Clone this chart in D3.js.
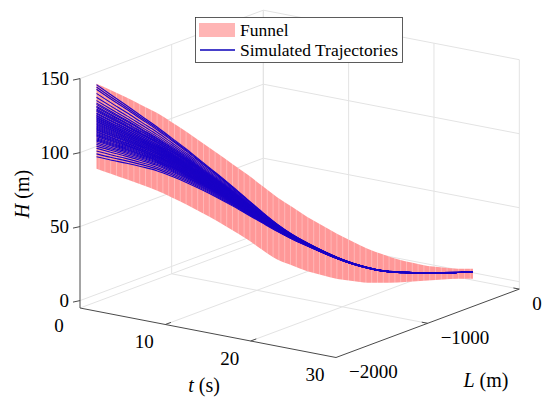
<!DOCTYPE html>
<html>
<head>
<meta charset="utf-8">
<script src="https://cdnjs.cloudflare.com/ajax/libs/d3/7.8.5/d3.min.js"></script>
<style>
body { margin: 0; background: #fff; }
</style>
</head>
<body>
<svg id="chart" width="550" height="407"></svg>
<script>
// sample times (s), ground distance (m) and heights (m)
var times = [0, 1, 2, 3, 4, 5, 6, 7, 8, 9, 10, 11, 12, 13, 14, 15, 16, 17, 18, 19, 20, 21, 22, 23, 24, 25];
var groundL = [-1820, -1749, -1678, -1606, -1535, -1464, -1393, -1322, -1250, -1179, -1108, -1037, -966,
    -894, -823, -752, -681, -610, -538, -467, -396, -325, -254, -182, -111, -40];
var nominalH = [114.0, 109.1, 104.4, 99.4, 94.3, 88.3, 82.0, 75.2, 68.2, 60.9, 53.3, 45.7, 38.4,
    31.8, 26.2, 20.9, 16.0, 11.8, 8.4, 5.8, 4.4, 3.6, 3.0, 2.5, 2.1, 2.1];
var funnelUpper = [142.4, 137.3, 132.0, 126.3, 120.6, 113.7, 106.6, 99.0, 91.3, 83.6, 75.9, 67.6, 59.3,
    52.1, 44.9, 38.6, 32.4, 26.8, 21.4, 17.1, 13.1, 10.2, 7.5, 6.0, 4.7, 4.1];
var funnelLower = [85.0, 80.9, 76.7, 72.5, 68.1, 62.9, 57.5, 51.5, 45.4, 38.8, 32.0, 24.4, 17.2,
    12.6, 8.2, 5.0, 1.9, 0.1, -1.6, -2.1, -2.5, -2.4, -2.2, -2.1, -2.1, -2.6];
// fraction of the initial height error still left at each sample
var convergence = [1, 0.9, 0.8, 0.7, 0.61, 0.53, 0.46, 0.39, 0.33, 0.27, 0.21, 0.15, 0.1,
    0.065, 0.042, 0.028, 0.019, 0.013, 0.01, 0.008, 0.006, 0.005, 0.004, 0.003, 0.002, 0.002];
// initial height error of each simulated trajectory (m)
var startOffsets = [27.7, 26.1, 24.6, 21.8, 19.2, 17.0, 15.3, 14.4, 13.1, 12.4, 11.2, 10.5, 9.8, 8.6,
    8.1, 7.0, 6.6, 5.7, 5.2, 4.4, 3.9, 3.1, 2.6, 1.8, 1.2, 0.5, -0.3, -0.9, -1.6, -2.3, -2.9, -3.8,
    -4.4, -5.1, -5.9, -6.4, -7.2, -8.1, -8.9, -9.6, -10.4, -11.5, -12.6, -13.8, -15.2, -17.1, -19.0, -21.0];

var tTicks = [0, 10, 20, 30];
var lTicks = [-2000, -1000, 0];
var hTicks = [0, 50, 100, 150];

var serif = "'Liberation Serif', 'Times New Roman', 'DejaVu Serif', serif";
var svg = d3.select("#chart").attr("font-family", serif);

var tScale = d3.scaleLinear().domain([0, 30]).range([0, 1]);
var lScale = d3.scaleLinear().domain([-2000, 0]).range([0, 1]);
var hScale = d3.scaleLinear().domain([-5, 150]).range([0, 1]);

// screen vectors of the box edges
var org = [80, 308], vT = [256, 49.5], vL = [183.3, -68.4], vH = [0, -229.4];

function proj(t, l, h) {
    var a = tScale(t), b = lScale(l), c = hScale(h);
    return [org[0] + a * vT[0] + b * vL[0] + c * vH[0],
            org[1] + a * vT[1] + b * vL[1] + c * vH[1]];
}

function seg(g, p, q, col, w) {
    g.append("line").attr("x1", p[0]).attr("y1", p[1]).attr("x2", q[0]).attr("y2", q[1])
        .attr("stroke", col).attr("stroke-width", w);
}

function label(x, y, size, anchor, s) {
    return svg.append("text").attr("x", x).attr("y", y).attr("font-family", serif)
        .attr("font-size", size).attr("text-anchor", anchor).attr("fill", "#000").text(s);
}

var grid = svg.append("g");
var gc = "#e3e3e3";
var hLo = hScale.domain()[0], hHi = hScale.domain()[1];

// back left wall (t = 0)
lTicks.forEach(function(l) { if (l != -2000) seg(grid, proj(0, l, hLo), proj(0, l, hHi), gc, 1) });
hTicks.forEach(function(h) { seg(grid, proj(0, -2000, h), proj(0, 0, h), gc, 1) });
// back right wall (L = 0)
tTicks.forEach(function(t) { seg(grid, proj(t, 0, hLo), proj(t, 0, hHi), gc, 1) });
hTicks.forEach(function(h) { seg(grid, proj(0, 0, h), proj(30, 0, h), gc, 1) });
// floor
tTicks.forEach(function(t) { if (t != 30) seg(grid, proj(t, -2000, hLo), proj(t, 0, hLo), gc, 1) });
lTicks.forEach(function(l) { if (l != -2000) seg(grid, proj(0, l, hLo), proj(30, l, hLo), gc, 1) });

// axes
var ax = svg.append("g");
var ac = "#4a4a4a";
seg(ax, proj(0, -2000, hLo), proj(0, -2000, hHi), ac, 1);
seg(ax, proj(0, -2000, hLo), proj(30, -2000, hLo), ac, 1);
seg(ax, proj(30, -2000, hLo), proj(30, 0, hLo), ac, 1);

var lenL = Math.hypot(vL[0], vL[1]), lenT = Math.hypot(vT[0], vT[1]);

hTicks.forEach(function(h) {
    var p = proj(0, -2000, h);
    seg(ax, p, [p[0] - 7, p[1] + 1.5], ac, 1);
    label(p[0] - 11, p[1] + 6.5, 19, "end", h);
});
tTicks.forEach(function(t) {
    var p = proj(t, -2000, hLo);
    if (t != 0 && t != 30) seg(ax, p, [p[0] + 6 * vL[0] / lenL, p[1] + 6 * vL[1] / lenL], ac, 1);
    label(p[0] - 21, p[1] + 23.5, 19, "middle", t);
});
lTicks.forEach(function(l) {
    var p = proj(30, l, hLo);
    if (l != -2000) seg(ax, p, [p[0] - 6 * vT[0] / lenT, p[1] - 6 * vT[1] / lenT], ac, 1);
    label(p[0] + 13, p[1] + 20.5, 19, "start", l < 0 ? "\u2212" + Math.abs(l) : l);
});

// axis labels
var hl = svg.append("text").attr("transform", "translate(29,194) rotate(-90)")
    .attr("font-family", serif).attr("font-size", 20).attr("text-anchor", "middle");
hl.append("tspan").attr("font-style", "italic").text("H");
hl.append("tspan").text(" (m)");
var tl = label(204, 392, 20, "middle", null);
tl.append("tspan").attr("font-style", "italic").text("t");
tl.append("tspan").text(" (s)");
var ll = label(486, 387, 20, "middle", null);
ll.append("tspan").attr("font-style", "italic").text("L");
ll.append("tspan").text(" (m)");

// funnel surface
var defs = svg.append("defs");
var pat = defs.append("pattern").attr("id", "strips").attr("patternUnits", "userSpaceOnUse")
    .attr("width", 5.8).attr("height", 20);
pat.append("rect").attr("width", 5.8).attr("height", 20).attr("fill", "#ff9898");
pat.append("rect").attr("width", 0.8).attr("height", 20).attr("fill", "#ffbdbd");

var fData = times.map(function(t, i) {
    var p = proj(t, groundL[i], funnelUpper[i]);
    var q = proj(t, groundL[i], funnelLower[i]);
    return {x: p[0], y1: p[1], y0: q[1]};
});
var area = d3.area()
    .x(function(d) { return d.x })
    .y0(function(d) { return d.y0 })
    .y1(function(d) { return d.y1 })
    .curve(d3.curveMonotoneX);
svg.append("path").attr("d", area(fData)).attr("fill", "url(#strips)");

// simulated trajectories
var line = d3.line()
    .x(function(d) { return d[0] })
    .y(function(d) { return d[1] })
    .curve(d3.curveMonotoneX);
var trajG = svg.append("g");
startOffsets.forEach(function(dh) {
    var pts = times.map(function(t, i) {
        return proj(t, groundL[i], nominalH[i] + dh * convergence[i]);
    });
    trajG.append("path").attr("d", line(pts)).attr("fill", "none")
        .attr("stroke", "#1a00c6").attr("stroke-width", 1.1);
});

// legend
var lg = svg.append("g");
lg.append("rect").attr("x", 195.5).attr("y", 17.5).attr("width", 207).attr("height", 45)
    .attr("fill", "#fff").attr("stroke", "#333").attr("stroke-width", 0.8);
lg.append("rect").attr("x", 199).attr("y", 23).attr("width", 36).attr("height", 14).attr("fill", "#ffb5b5");
seg(lg, [200, 50], [235, 50], "#0a00b8", 1.5);
label(240, 36, 17.5, "start", "Funnel");
label(240, 56, 17.5, "start", "Simulated Trajectories");
</script>
</body>
</html>
